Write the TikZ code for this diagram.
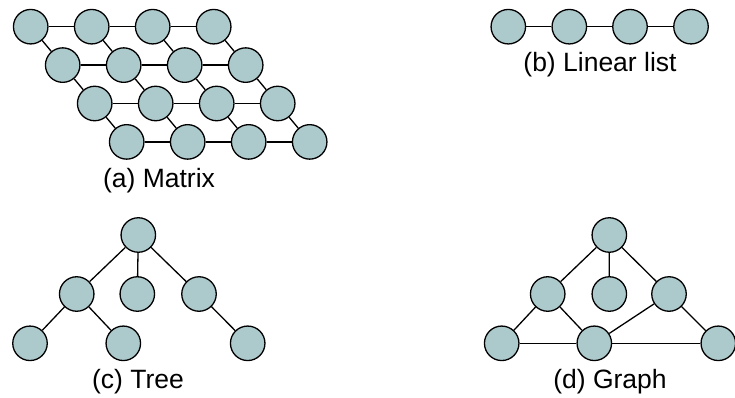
\documentclass[tikz,border=0pt]{standalone}
\usepackage{fontspec}
\setmainfont{Liberation Sans}
\usepackage{tikz}
\definecolor{nodefill}{RGB}{172,201,204}

\tikzset{
  vertex/.style={circle, draw=black, fill=nodefill, line width=1.3pt,
                 minimum size=34.5pt, inner sep=0pt},
  link/.style={draw=black, line width=1.3pt},
  caption/.style={font=\fontsize{26.5}{30}\selectfont, inner sep=0pt}
}

\begin{document}
\begin{tikzpicture}[x=1pt, y=-1pt]

   \useasboundingbox (0,0) rectangle (735,398);

   % (a) matrix
   \foreach \r in {0,...,3}
     \foreach \c in {0,...,3}
       \node[vertex] (m\r\c) at ({30.7+32*\r+61*\c},{26.7+38.4*\r}) {};
   \foreach \r in {0,...,3}
     \foreach \c/\n in {0/1,1/2,2/3}
       \draw[link] (m\r\c) -- (m\r\n);
   \foreach \r/\s in {0/1,1/2,2/3}
     \foreach \c in {0,...,3}
       \draw[link] (m\r\c) -- (m\s\c);
   \node[caption] (capa) at (159,181) {(a) Matrix};

   % (b) linear list
   \node[vertex] (l0) at (508.3,26.7) {};
   \node[vertex] (l1) at (569.3,26.7) {};
   \node[vertex] (l2) at (630,26.7) {};
   \node[vertex] (l3) at (691,26.7) {};
   \draw[link] (l0) -- (l1) (l1) -- (l2) (l2) -- (l3);
   \node[caption] (capb) at (600,65) {(b) Linear list};

   % (c) tree
   \node[vertex] (t0) at (138.3,235) {};
   \node[vertex] (t1) at (76.7,294) {};
   \node[vertex] (t2) at (137.3,294) {};
   \node[vertex] (t3) at (199,294) {};
   \node[vertex] (t4) at (30,343.3) {};
   \node[vertex] (t5) at (123.3,343.3) {};
   \node[vertex] (t6) at (247.7,343.3) {};
   \draw[link] (t0) -- (t1) (t0) -- (t2) (t0) -- (t3);
   \draw[link] (t1) -- (t4) (t1) -- (t5) (t3) -- (t6);
   \node[caption] (capc) at (138,381.7) {(c) Tree};

   % (d) graph
   \node[vertex] (g0) at (609.3,235) {};
   \node[vertex] (g1) at (547.7,294) {};
   \node[vertex] (g2) at (609.3,294) {};
   \node[vertex] (g3) at (669,294) {};
   \node[vertex] (g4) at (501.7,343.3) {};
   \node[vertex] (g5) at (594.3,343.3) {};
   \node[vertex] (g6) at (718.3,343.3) {};
   \draw[link] (g0) -- (g1) (g0) -- (g2) (g0) -- (g3);
   \draw[link] (g1) -- (g4) (g1) -- (g5) (g3) -- (g5) (g3) -- (g6);
   \draw[link] (g4) -- (g5) (g5) -- (g6);
   \node[caption] (capd) at (610,381.7) {(d) Graph};

\end{tikzpicture}
\end{document}
